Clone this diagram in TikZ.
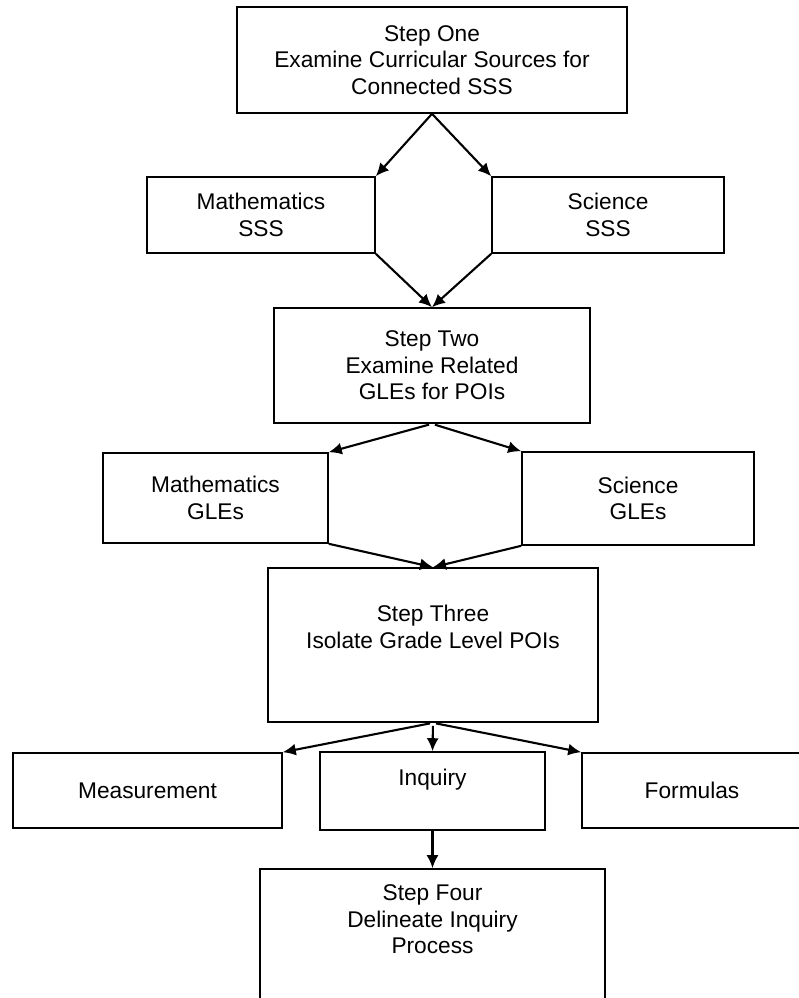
\documentclass[tikz,border=0pt]{standalone}
\usepackage{fontspec}
\setmainfont{Liberation Sans}
\usetikzlibrary{arrows.meta}

\begin{document}
\begin{tikzpicture}[x = 1pt, y = -1pt, > = {Latex[length = 13pt, width = 12pt]},
	box/.style = {draw, line width = 1.6pt, align = center, inner sep = 0pt,
		font = \fontsize{22.7}{26.5}\selectfont},
	link/.style = {->, line width = 2.1pt}]

	% Definitions

	\def\C{432}		% Centre line of the steps
	\def\G{3pt}		% Gap below a box where arrows fork

	% Page frame

	\useasboundingbox (0, 0) rectangle (799, 998);

	% Step boxes

	\node [box, minimum width = 390pt, minimum height = 106pt] (stepone) at (\C, 60)
		{Step One\\Examine Curricular Sources for\\Connected SSS};
	\node [box, minimum width = 316pt, minimum height = 115pt] (steptwo) at (\C, 365.5)
		{Step Two\\Examine Related\\GLEs for POIs};
	\node [box, minimum width = 330pt, minimum height = 154pt] (stepthree) at (433, 645)
		{Step Three\\Isolate Grade Level POIs\\[10pt]\mbox{}};
	\node [box, minimum width = 345pt, minimum height = 154pt] (stepfour) at (432.5, 946)
		{Step Four\\Delineate Inquiry\\Process\\\mbox{}\\\mbox{}};

	% Subject boxes

	\node [box, minimum width = 228pt, minimum height = 76pt] (mathsss) at (261, 215)
		{Mathematics\\SSS};
	\node [box, minimum width = 232pt, minimum height = 76pt] (scisss) at (608, 215)
		{Science\\SSS};
	\node [box, minimum width = 225pt, minimum height = 90pt] (mathgle) at (215.5, 498)
		{Mathematics\\GLEs};
	\node [box, minimum width = 232pt, minimum height = 93pt] (scigle) at (638, 498.5)
		{Science\\GLEs};

	% POI boxes

	\node [box, minimum width = 269pt, minimum height = 75pt] (measure) at (147.5, 790.5)
		{Measurement};
	\node [box, minimum width = 225pt, minimum height = 78pt] (inquiry) at (432.5, 791)
		{Inquiry\\\mbox{}};
	\node [box, minimum width = 220pt, minimum height = 75pt] (formulas) at (692, 790.5)
		{Formulas};

	% Arrows

	\draw [link] (stepone.south) -- (mathsss.north east);
	\draw [link] (stepone.south) -- (scisss.north west);
	\draw [link] (mathsss.south east) -- (steptwo.north);
	\draw [link] (scisss.south west) -- (steptwo.north);

	\begin{scope}[shorten <= \G]
		\draw [link] (steptwo.south) -- (mathgle.north east);
		\draw [link] (steptwo.south) -- (scigle.north west);
		\draw [link] (stepthree.south) -- (measure.north east);
		\draw [link] (stepthree.south) -- (inquiry.north);
		\draw [link] (stepthree.south) -- (formulas.north west);
	\end{scope}

	\draw [link] (mathgle.south east) -- (stepthree.north);
	\draw [link] (scigle.south west) -- (stepthree.north);
	\draw [link] (inquiry.south) -- (stepfour.north);

\end{tikzpicture}
\end{document}
